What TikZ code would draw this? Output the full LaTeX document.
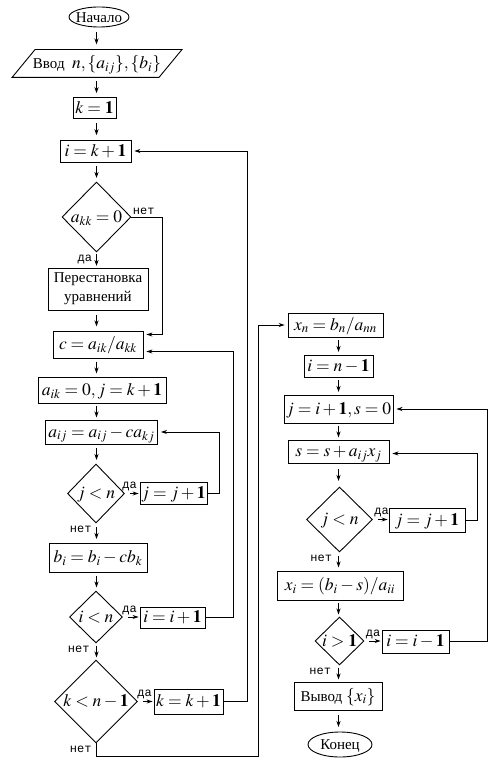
\documentclass[tikz,border=0pt]{standalone}
\usepackage{mathptmx}
\usepackage{fontspec}
\setmainfont{Liberation Serif}
\newfontfamily\monof{Liberation Mono}
\usetikzlibrary{shapes.geometric,arrows.meta,calc}
\newcommand{\ct}[1]{\makebox[0pt]{\raisebox{-5.3pt}[0pt][0pt]{#1}}}
\newcommand{\mth}[1]{{\fontsize{17.5}{20}\selectfont$#1$}}
\newcommand{\flowarr}[3]{\draw[flow] ($(#1.south -| #3)!.5!(#2.north -| #3)+(0,6)$) -- ++(0,-12);}
\begin{document}
\begin{tikzpicture}[x=1pt,y=1pt, line width=0.9pt,
 font=\fontsize{15}{18}\selectfont,
 box/.style={draw, rectangle, inner sep=0pt},
 dec/.style={draw, diamond, inner sep=0pt},
 term/.style={draw, ellipse, inner sep=0pt},
 io/.style={rectangle, inner sep=0pt},
 flow/.style={-{Stealth[length=6pt,width=4pt]}},
 fb/.style={-{Stealth[length=6pt,width=4pt]}, shorten >=3pt},
 lab/.style={font=\monof\fontsize{12}{12}\selectfont, inner sep=1pt},
]
\useasboundingbox (0,0) rectangle (498,-775);
\coordinate (cL) at (96.5,0);
\coordinate (cR) at (338.5,0);
% left column
\node[term, minimum width=60, minimum height=20] (start) at (99,-17) {\ct{Начало}};
\node[io, minimum width=146, minimum height=27] (input) at (97,-63.5) {\ct{Ввод~~\mth{n,\{a_{ij}\},\{b_i\}}}};
\draw ($(input.south west)+(-11.5,0)$) -- ($(input.north west)+(11.5,0)$) -- ($(input.north east)+(11.5,0)$) -- ($(input.south east)+(-11.5,0)$) -- cycle;
\node[box, minimum width=43, minimum height=21] (k1) at (94.5,-108) {\ct{\mth{k=\mathbf{1}}}};
\node[box, minimum width=71, minimum height=22] (ik1) at (95.5,-151) {\ct{\mth{i=k+\mathbf{1}}}};
\node[dec, minimum width=69, minimum height=70] (d1) at (96.5,-217) {\ct{\mth{a_{kk}=0}}};
\node[box, minimum width=100, minimum height=42, align=center, font=\fontsize{15}{19}\selectfont] (perm) at (98,-289) {Перестановка\\уравнений};
\node[box, minimum width=90, minimum height=27] (c) at (98,-344.5) {\ct{\mth{c=a_{ik}/a_{kk}}}};
\node[box, minimum width=128, minimum height=26] (aik) at (102,-390) {\ct{\mth{a_{ik}=0, j=k+\mathbf{1}}}};
\node[box, minimum width=112, minimum height=24] (aij) at (101.5,-432) {\ct{\mth{a_{ij}=a_{ij}-ca_{kj}}}};
\node[dec, minimum width=57, minimum height=59] (d2) at (96,-493.5) {\ct{\mth{j<n}}};
\node[box, minimum width=67, minimum height=22] (jj) at (173.5,-493) {\ct{\mth{j=j+\mathbf{1}}}};
\node[box, minimum width=98, minimum height=29] (bi) at (98,-557.5) {\ct{\mth{b_i=b_i-cb_k}}};
\node[dec, minimum width=53, minimum height=52] (d3) at (96,-617) {\ct{\mth{i<n}}};
\node[box, minimum width=65, minimum height=21] (ii) at (172.5,-617.5) {\ct{\mth{i=i+\mathbf{1}}}};
\node[dec, minimum width=83, minimum height=83] (d4) at (96,-701.5) {\ct{\mth{k<n-\mathbf{1}}}};
\node[box, minimum width=69, minimum height=25] (kk) at (188.5,-701.5) {\ct{\mth{k=k+\mathbf{1}}}};
% right column
\node[box, minimum width=95, minimum height=24] (xn) at (335.5,-325) {\ct{\mth{x_n=b_n/a_{nn}}}};
\node[box, minimum width=69, minimum height=22] (in1) at (338.5,-366) {\ct{\mth{i=n-\mathbf{1}}}};
\node[box, minimum width=109, minimum height=28] (js) at (338.5,-409) {\ct{\mth{j=i+\mathbf{1}, s=0}}};
\node[box, minimum width=101, minimum height=23] (s) at (338.5,-451.5) {\ct{\mth{s=s+a_{ij}x_j}}};
\node[dec, minimum width=66, minimum height=65] (d5) at (339.5,-519.5) {\ct{\mth{j<n}}};
\node[box, minimum width=76, minimum height=24] (jj2) at (427,-520) {\ct{\mth{j=j+\mathbf{1}}}};
\node[box, minimum width=126, minimum height=29] (xi) at (340,-585.5) {\ct{\mth{x_i=(b_i-s)/a_{ii}}}};
\node[dec, minimum width=49, minimum height=48] (d6) at (339.5,-641) {\ct{\mth{i>\mathbf{1}}}};
\node[box, minimum width=67, minimum height=23] (ii2) at (415.5,-641.5) {\ct{\mth{i=i-\mathbf{1}}}};
\node[box, minimum width=88, minimum height=28] (out) at (338,-696) {\ct{Вывод \mth{\{x_i\}}}};
\node[term, minimum width=64, minimum height=25] (end) at (340,-744.5) {\ct{Конец}};
% flow arrows
\flowarr{start}{input}{cL}
\flowarr{input}{k1}{cL}
\flowarr{k1}{ik1}{cL}
\flowarr{ik1}{d1}{cL}
\flowarr{d1}{perm}{cL}
\flowarr{perm}{c}{cL}
\flowarr{c}{aik}{cL}
\flowarr{aik}{aij}{cL}
\flowarr{aij}{d2}{cL}
\flowarr{d2}{bi}{cL}
\flowarr{bi}{d3}{cL}
\flowarr{d3}{d4}{cL}
\flowarr{xn}{in1}{cR}
\flowarr{in1}{js}{cR}
\flowarr{js}{s}{cR}
\flowarr{s}{d5}{cR}
\flowarr{d5}{xi}{cR}
\flowarr{xi}{d6}{cR}
\flowarr{d6}{out}{cR}
\flowarr{out}{end}{cR}
% yes branches
\draw[flow, shorten <=5pt, shorten >=1pt] (d2.east) -- (d2.east -| jj.west);
\draw[flow, shorten <=5pt, shorten >=1pt] (d3.east) -- (d3.east -| ii.west);
\draw[flow, shorten <=5pt, shorten >=1pt] (d4.east) -- (d4.east -| kk.west);
\draw[flow, shorten <=5pt, shorten >=1pt] (d5.east) -- (d5.east -| jj2.west);
\draw[flow, shorten <=5pt, shorten >=1pt] (d6.east) -- (d6.east -| ii2.west);
% loops
\draw[fb] (d1.east) -- ++(31,0) |- ([yshift=10pt]c.east);
\draw[fb] (ii.east) -- ++(28,0) |- ([yshift=-7pt]c.east);
\draw[fb] (jj.east) -- ++(12,0) |- (aij.east);
\draw[fb] (kk.east) -- ++(24,0) |- (ik1.east);
\draw[fb] (d4.south) |- (258,-756) |- (xn.west);
\draw[fb] (jj2.east) -- ++(12,0) |- ([yshift=-2pt]s.east);
\draw[fb] (ii2.east) -- ++(38,0) |- (js.east);
% labels
\node[lab, anchor=south west] at ($(d1.east)+(0,1)$) {нет};
\node[lab, anchor=north east] at ($(d1.south)+(-3,-1)$) {да};
\node[lab, anchor=south west] at ($(d2.east)+(-4,1)$) {да};
\node[lab, anchor=north east] at ($(d2.south)+(-3,-1)$) {нет};
\node[lab, anchor=south west] at ($(d3.east)+(-2,1)$) {да};
\node[lab, anchor=north east] at ($(d3.south)+(-5,-1)$) {нет};
\node[lab, anchor=south west] at ($(d4.east)+(-2,1)$) {да};
\node[lab, anchor=north east] at ($(d4.south)+(-3,-1)$) {нет};
\node[lab, anchor=south west] at ($(d5.east)+(0,1)$) {да};
\node[lab, anchor=north east] at ($(d5.south)+(-6,-1)$) {нет};
\node[lab, anchor=south west] at ($(d6.east)+(0,1)$) {да};
\node[lab, anchor=north east] at ($(d6.south)+(-7,-1)$) {нет};
\end{tikzpicture}
\end{document}
